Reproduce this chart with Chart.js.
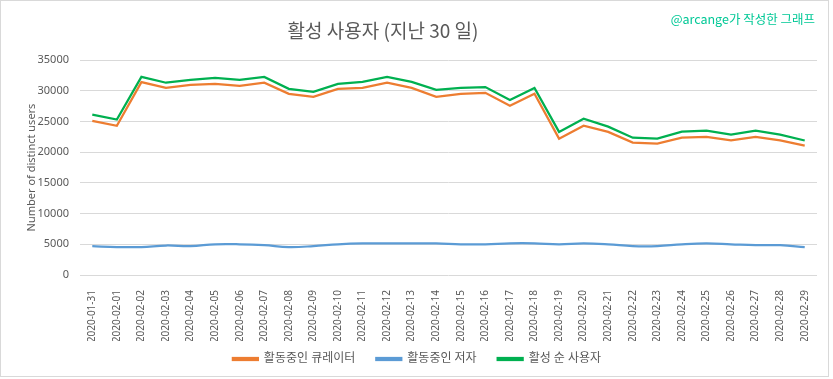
<!DOCTYPE html>
<html>
<head>
<meta charset="utf-8">
<script src="https://cdn.jsdelivr.net/npm/chart.js@4"></script>
<style>
  html, body { margin: 0; padding: 0; background: #fff; }
  #wrap { position: relative; width: 833px; height: 379px; overflow: hidden; }
  #frame { position: absolute; left: 0; top: 0; width: 827px; height: 375px; border: 1px solid #d9d9d9; box-sizing: content-box; pointer-events: none; }
  #title { position: absolute; left: 0; width: 766px; top: 16px; text-align: center; font: 19px "Noto Sans CJK KR", sans-serif; color: #595959; }
  #mark { position: absolute; right: 18px; top: 9px; font: 12.5px "Noto Sans CJK KR", sans-serif; color: #00C896; }
  canvas { position: absolute; left: 0; top: 0; }
</style>
</head>
<body>
<div id="wrap">
  <canvas id="c" width="833" height="379"></canvas>
  <div id="title">활성 사용자 (지난 30 일)</div>
  <div id="mark">@arcange가 작성한 그래프</div>
  <div id="frame"></div>
</div>
<script>
const categories = ["2020-01-31","2020-02-01","2020-02-02","2020-02-03","2020-02-04","2020-02-05","2020-02-06","2020-02-07","2020-02-08","2020-02-09","2020-02-10","2020-02-11","2020-02-12","2020-02-13","2020-02-14","2020-02-15","2020-02-16","2020-02-17","2020-02-18","2020-02-19","2020-02-20","2020-02-21","2020-02-22","2020-02-23","2020-02-24","2020-02-25","2020-02-26","2020-02-27","2020-02-28","2020-02-29"];
const curators = [25100,24300,31400,30450,30950,31100,30800,31300,29500,29000,30300,30450,31300,30450,29000,29500,29650,27550,29500,22200,24300,23300,21550,21400,22350,22500,21900,22500,21900,21050];
const authors = [4700,4550,4550,4800,4700,5000,5000,4850,4550,4700,5000,5150,5150,5150,5150,5000,5000,5150,5150,5000,5150,5000,4700,4700,5000,5150,5000,4850,4850,4550];
const activeUsers = [26100,25300,32250,31300,31750,32100,31750,32250,30300,29800,31100,31450,32250,31450,30150,30450,30600,28500,30450,23300,25450,24150,22350,22200,23350,23500,22850,23500,22850,21900];
const seriesNames = ["활동중인 큐레이터","활동중인 저자","활성 순 사용자"];
const yTicks = [0,5000,10000,15000,20000,25000,30000,35000];

const FONT = '"Noto Sans", "Noto Sans CJK KR", sans-serif';
const GREY = '#595959';

// keep the legend compact vertically while keeping wide item spacing
const legendTweak = {
  id: 'legendTweak',
  beforeLayout(chart) {
    const lg = chart.legend;
    if (!lg || lg._tweaked) return;
    lg._tweaked = true;
    const origFit = lg.fit;
    lg.fit = function () { origFit.call(this); this.height = 36; };
    const origDraw = lg.draw;
    lg.draw = function (area) {
      const ctx = this.ctx;
      ctx.save(); ctx.translate(-4, -9);
      origDraw.call(this, area);
      ctx.restore();
    };
  }
};

new Chart(document.getElementById('c'), {
  type: 'line',
  data: {
    labels: categories,
    datasets: [
      { label: seriesNames[0], data: curators, borderColor: '#ED7D31', backgroundColor: '#ED7D31', borderWidth: 2.25, pointRadius: 0, tension: 0 },
      { label: seriesNames[1], data: authors, borderColor: '#5B9BD5', backgroundColor: '#5B9BD5', borderWidth: 2.25, pointRadius: 0, tension: 0.4 },
      { label: seriesNames[2], data: activeUsers, borderColor: '#00B050', backgroundColor: '#00B050', borderWidth: 2.25, pointRadius: 0, tension: 0 }
    ]
  },
  plugins: [legendTweak],
  options: {
    responsive: false,
    animation: false,
    events: [],
    layout: { padding: { left: 25, right: 16, top: 60, bottom: 2 } },
    plugins: {
      title: { display: false },
      tooltip: { enabled: false },
      legend: {
        position: 'bottom',
        labels: { font: { family: FONT, size: 12 }, color: GREY, boxWidth: 25, boxHeight: 2, padding: 21 }
      }
    },
    scales: {
      x: {
        offset: true,
        grid: { display: false },
        border: { display: false },
        ticks: { font: { family: FONT, size: 10 }, color: GREY, minRotation: 90, maxRotation: 90, autoSkip: false, padding: 7 },
        afterFit: s => { s.height = 66; }
      },
      y: {
        min: 0, max: 35000,
        afterBuildTicks: s => { s.ticks = yTicks.map(v => ({ value: v })); },
        grid: { color: '#d9d9d9', drawTicks: false, lineWidth: 1 },
        border: { display: false },
        ticks: { font: { family: FONT, size: 11 }, color: GREY, padding: 11, callback: v => String(v) },
        title: { display: true, text: 'Number of distinct users', font: { family: FONT, size: 11 }, color: GREY, padding: 0 },
        afterFit: s => { s.width = 55; }
      }
    }
  }
});
</script>
</body>
</html>
